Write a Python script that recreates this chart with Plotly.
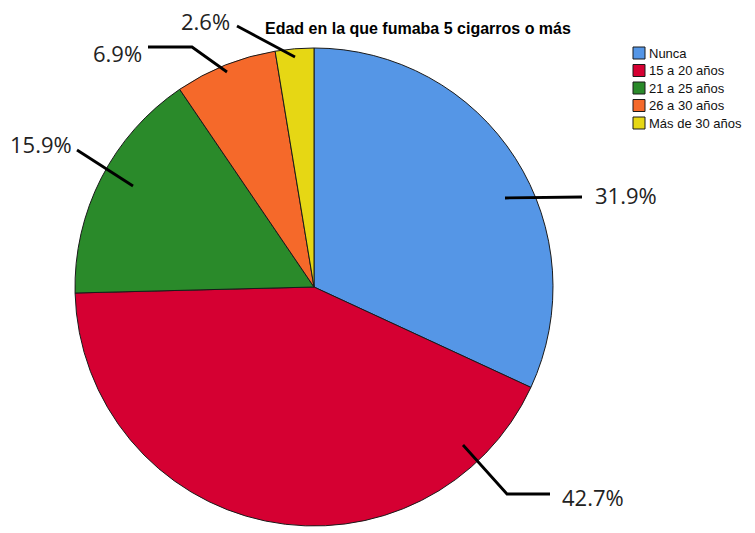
import plotly.graph_objects as go

# Data
categories = ["Nunca", "15 a 20 años", "21 a 25 años", "26 a 30 años", "Más de 30 años"]
percentages = [31.9, 42.7, 15.9, 6.9, 2.6]
colors = ["#5596E6", "#D50032", "#2A8A2A", "#F5692A", "#E6D714"]
title_text = "Edad en la que fumaba 5 cigarros o más"

W, H = 755, 533

def px(x, y):
    """Convert pixel position (top-left origin) to paper coordinates."""
    return x / W, 1 - y / H

# Pie geometry in pixels
cx, cy, r = 314, 287, 239

fig = go.Figure()
fig.add_trace(go.Pie(
    labels=categories,
    values=percentages,
    sort=False,
    direction="clockwise",
    rotation=0,
    textinfo="none",
    hoverinfo="label+percent",
    marker=dict(colors=colors, line=dict(color="#1a1a1a", width=1)),
    domain=dict(x=[(cx - r) / W, (cx + r) / W],
                y=[(H - (cy + r)) / H, (H - (cy - r)) / H]),
    showlegend=False,
))

# Leader lines (pixel paths) and label placement for each slice
leaders = [
    [(505, 198), (582, 197)],
    [(463, 445), (507, 494), (550, 494)],
    [(133, 186), (77, 150)],
    [(227, 72), (192, 47), (148, 47)],
    [(295, 57), (237, 26)],
]
label_pos = [
    (593, 195, "left"),
    (560, 497, "left"),
    (74, 144, "right"),
    (144, 53, "right"),
    (232, 21, "right"),
]

shapes = []
annotations = []
for pts, (lx, ly, anchor), pct in zip(leaders, label_pos, percentages):
    path = ""
    for i, (x, y) in enumerate(pts):
        X, Y = px(x, y)
        path += ("M" if i == 0 else "L") + f"{X},{Y} "
    shapes.append(dict(type="path", xref="paper", yref="paper", path=path.strip(),
                       line=dict(color="#000000", width=2.8)))
    X, Y = px(lx, ly)
    annotations.append(dict(x=X, y=Y, xref="paper", yref="paper", text=f"{pct:.1f}%",
                            showarrow=False, xanchor=anchor, yanchor="middle",
                            font=dict(family="Open Sans", size=22, color="#222222")))

# Legend built from the category list
leg_x, leg_y0, leg_dy, box = 633, 53, 17.5, 12
for i, (cat, col) in enumerate(zip(categories, colors)):
    yc = leg_y0 + i * leg_dy
    x0, y0 = px(leg_x, yc - box / 2)
    x1, y1 = px(leg_x + box, yc + box / 2)
    shapes.append(dict(type="rect", xref="paper", yref="paper", x0=x0, x1=x1, y0=y1, y1=y0,
                       fillcolor=col, line=dict(color="#1a1a1a", width=1)))
    tx, ty = px(leg_x + box + 2, yc)
    annotations.append(dict(x=tx, y=ty, xref="paper", yref="paper", text=cat,
                            showarrow=False, xanchor="left", yanchor="middle",
                            font=dict(family="Liberation Sans", size=13, color="#111111")))

tx, ty = px(263, 28)
annotations.append(dict(x=tx, y=ty, xref="paper", yref="paper", text=f"<b>{title_text}</b>",
                        showarrow=False, xanchor="left", yanchor="middle",
                        font=dict(family="Liberation Sans", size=16, color="#000000")))

fig.update_layout(
    width=W, height=H,
    margin=dict(l=0, r=0, t=0, b=0),
    paper_bgcolor="white",
    plot_bgcolor="white",
    shapes=shapes,
    annotations=annotations,
)

fig.write_html("out.html")
